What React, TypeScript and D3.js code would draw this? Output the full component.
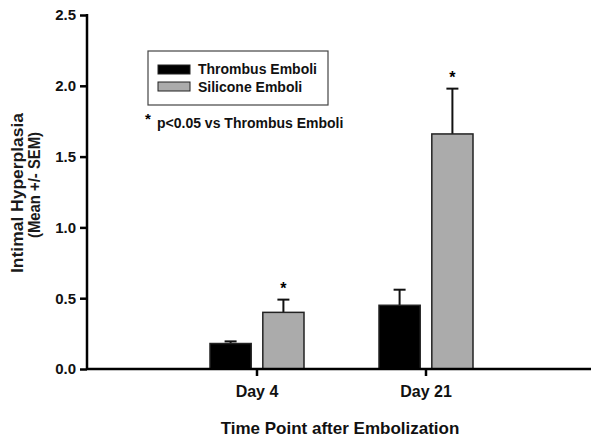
import React, { useEffect, useRef } from "react";
import * as d3 from "d3";

const days = ["Day 4", "Day 21"];
const series = ["Thrombus Emboli", "Silicone Emboli"];
const means = [
  [0.18, 0.45],
  [0.4, 1.66],
];
const sems = [
  [0.015, 0.11],
  [0.09, 0.32],
];
const significant = [
  [false, false],
  [true, true],
];
const yTicks = [0, 0.5, 1.0, 1.5, 2.0, 2.5];
const colors = ["#000000", "#ababab"];

export default function App() {
  const ref = useRef<SVGSVGElement>(null);

  useEffect(() => {
    const svg = d3.select(ref.current);
    svg.selectAll("*").remove();
    const font = "'Liberation Sans', Arial, sans-serif";

    const x0 = 87;
    const y = d3.scaleLinear().domain([0, 2.5]).range([369, 15]);
    const x = d3.scaleBand().domain(days).range([172.5, 510.5]).padding(0);
    const xs = d3.scaleBand().domain(series).range([-47, 47]).paddingInner(0.22);

    // y axis
    const yAxis = svg.append("g").attr("transform", `translate(${x0},0)`)
      .call(d3.axisLeft(y).tickValues(yTicks).tickFormat(d3.format(".1f")).tickSize(7).tickPadding(4));
    yAxis.select(".domain").remove();
    yAxis.selectAll(".tick line").attr("stroke", "#000").attr("stroke-width", 2.5);
    yAxis.selectAll(".tick text")
      .attr("font-family", font).attr("font-size", 15).attr("font-weight", "bold").attr("fill", "#111");
    svg.append("line").attr("x1", x0).attr("x2", x0).attr("y1", y(2.5) - 1).attr("y2", y(0))
      .attr("stroke", "#000").attr("stroke-width", 2.5);

    // x axis
    const xAxis = svg.append("g").attr("transform", `translate(0,${y(0)})`)
      .call(d3.axisBottom(x).tickSize(7).tickPadding(10));
    xAxis.select(".domain").remove();
    xAxis.selectAll(".tick line").attr("stroke", "#000").attr("stroke-width", 2.5);
    xAxis.selectAll(".tick text")
      .attr("font-family", font).attr("font-size", 16).attr("font-weight", "bold").attr("fill", "#111");

    // bars
    const groups = svg.append("g").selectAll("g").data(days).join("g")
      .attr("transform", (d) => `translate(${(x(d) as number) + x.bandwidth() / 2},0)`);

    series.forEach((s, si) => {
      groups.each(function (d, di) {
        const g = d3.select(this);
        const bx = xs(s) as number;
        const bw = xs.bandwidth();
        const m = means[si][di];
        const top = y(m + sems[si][di]);
        g.append("line").attr("x1", bx + bw / 2).attr("x2", bx + bw / 2)
          .attr("y1", y(m)).attr("y2", top).attr("stroke", "#111").attr("stroke-width", 2);
        g.append("line").attr("x1", bx + bw / 2 - 6).attr("x2", bx + bw / 2 + 6)
          .attr("y1", top).attr("y2", top).attr("stroke", "#111").attr("stroke-width", 2);
        g.append("rect").attr("x", bx).attr("y", y(m)).attr("width", bw).attr("height", y(0) - y(m))
          .attr("fill", colors[si]).attr("stroke", "#222").attr("stroke-width", 1.5);
        if (significant[si][di]) {
          g.append("text").attr("x", bx + bw / 2).attr("y", top - 6).attr("text-anchor", "middle")
            .attr("font-family", font).attr("font-size", 16).attr("font-weight", "bold").text("*");
        }
      });
    });

    svg.append("line").attr("x1", x0).attr("x2", 591).attr("y1", y(0)).attr("y2", y(0))
      .attr("stroke", "#000").attr("stroke-width", 2.5);

    // legend
    const lg = svg.append("g");
    lg.append("rect").attr("x", 148).attr("y", 51).attr("width", 180).attr("height", 54)
      .attr("fill", "#fff").attr("stroke", "#444").attr("stroke-width", 1.2);
    series.forEach((s, i) => {
      lg.append("rect").attr("x", 158).attr("y", 65 + i * 17).attr("width", 32).attr("height", 9)
        .attr("fill", colors[i]).attr("stroke", "#222").attr("stroke-width", 1);
      lg.append("text").attr("x", 198).attr("y", 74 + i * 18)
        .attr("font-family", font).attr("font-size", 14).attr("font-weight", "bold").attr("fill", "#111").text(s);
    });
    svg.append("text").attr("x", 145).attr("y", 124)
      .attr("font-family", font).attr("font-size", 15).attr("font-weight", "bold").text("*");
    svg.append("text").attr("x", 157).attr("y", 128)
      .attr("font-family", font).attr("font-size", 14).attr("font-weight", "bold").attr("fill", "#111")
      .text("p<0.05 vs Thrombus Emboli");

    // axis titles
    svg.append("text").attr("x", 340).attr("y", 434).attr("text-anchor", "middle")
      .attr("font-family", font).attr("font-size", 17).attr("font-weight", "bold").attr("fill", "#111")
      .text("Time Point after Embolization");
    const yt = svg.append("g").attr("transform", "translate(0,193) rotate(-90)");
    yt.append("text").attr("x", 0).attr("y", 23).attr("text-anchor", "middle")
      .attr("font-family", font).attr("font-size", 16).attr("font-weight", "bold").attr("fill", "#1a1a1a")
      .attr("textLength", 160).attr("lengthAdjust", "spacingAndGlyphs")
      .text("Intimal Hyperplasia");
    yt.append("text").attr("x", 8).attr("y", 40).attr("text-anchor", "middle")
      .attr("font-family", font).attr("font-size", 16).attr("font-weight", "bold").attr("fill", "#1a1a1a")
      .attr("textLength", 106).attr("lengthAdjust", "spacingAndGlyphs")
      .text("(Mean +/- SEM)");
  }, []);

  return (
    <svg ref={ref} width={594} height={439}
      style={{ position: "absolute", left: 0, top: 0, background: "#fff" }} />
  );
}
